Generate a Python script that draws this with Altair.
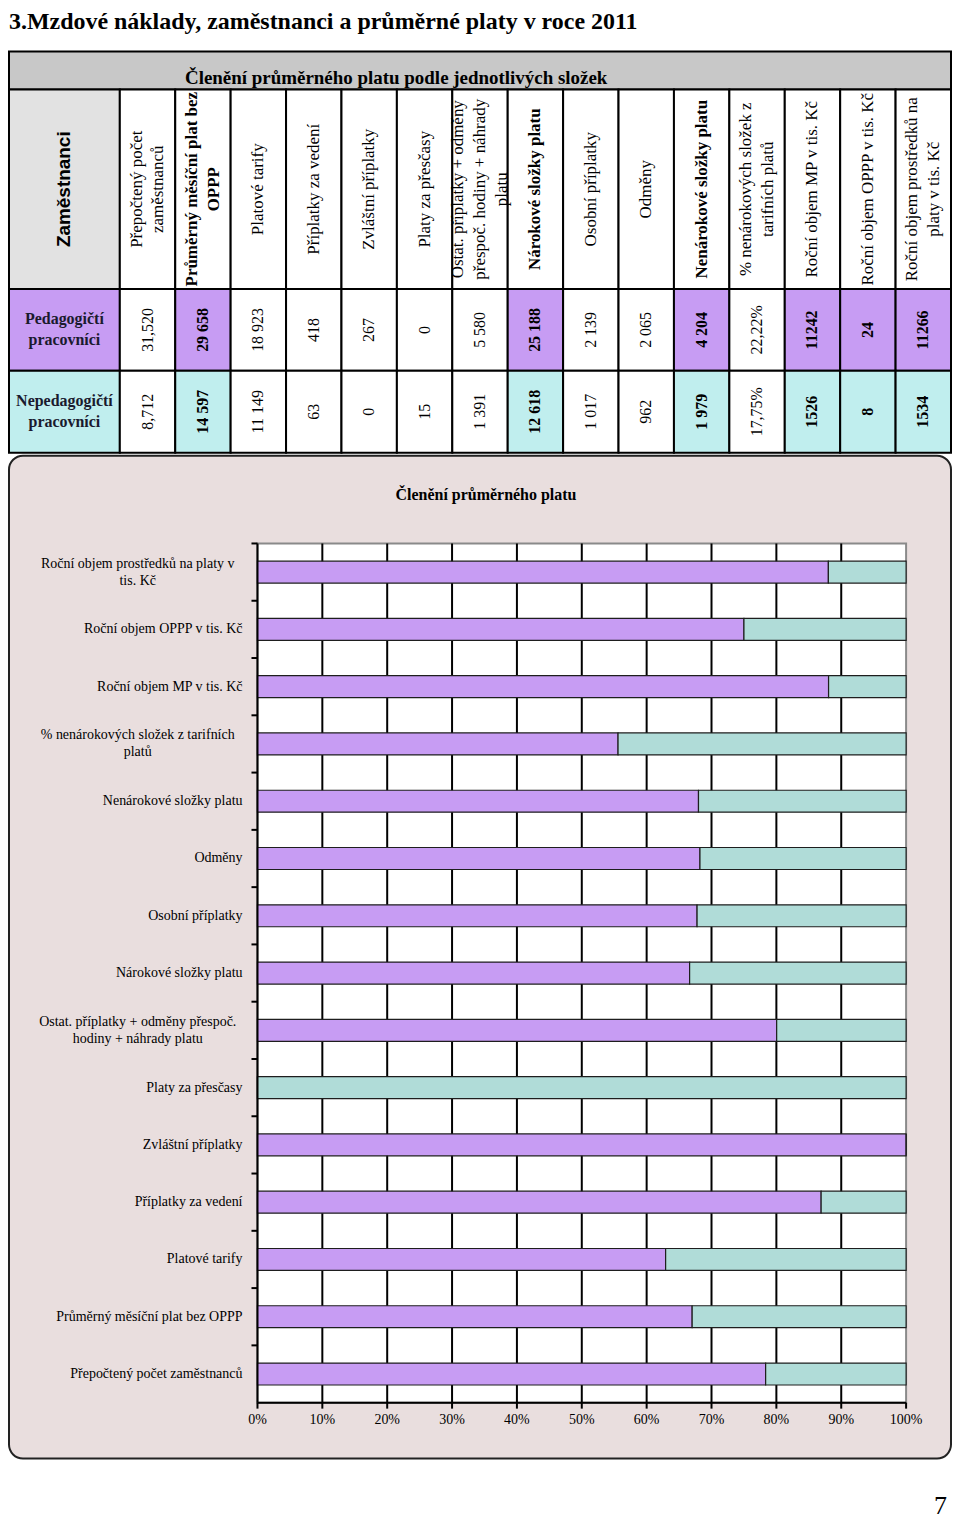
import altair as alt
import pandas as pd

# ---------------- data ----------------
title_text = "3.Mzdové náklady, zaměstnanci a průměrné platy v roce 2011"
band_text = "Členění průměrného platu podle jednotlivých složek"
chart_title = "Členění průměrného platu"
employees_header = "Zaměstnanci"
page_number = "7"

groups = ["Pedagogičtí pracovníci", "Nepedagogičtí pracovníci"]
group_labels = ["Pedagogičtí|pracovníci", "Nepedagogičtí|pracovníci"]

columns = [
    "Přepočtený počet zaměstnanců",
    "Průměrný měsíční plat bez OPPP",
    "Platové tarify",
    "Příplatky za vedení",
    "Zvláštní příplatky",
    "Platy za přesčasy",
    "Ostat. příplatky + odměny přespoč. hodiny + náhrady platu",
    "Nárokové složky platu",
    "Osobní příplatky",
    "Odměny",
    "Nenárokové složky platu",
    "% nenárokových složek z tarifních platů",
    "Roční objem MP v tis. Kč",
    "Roční objem OPPP v tis. Kč",
    "Roční objem prostředků na platy v tis. Kč",
]
header_labels = [
    "Přepočtený počet|zaměstnanců",
    "Průměrný měsíční plat bez|OPPP",
    "Platové tarify",
    "Příplatky za vedení",
    "Zvláštní příplatky",
    "Platy za přesčasy",
    "Ostat. příplatky + odměny|přespoč. hodiny + náhrady|platu",
    "Nárokové složky platu",
    "Osobní příplatky",
    "Odměny",
    "Nenárokové složky platu",
    "% nenárokových složek z|tarifních platů",
    "Roční objem MP v tis. Kč",
    "Roční objem OPPP v tis. Kč",
    "Roční objem prostředků na|platy v tis. Kč",
]
header_bold = [0, 1, 0, 0, 0, 0, 0, 1, 0, 0, 1, 0, 0, 0, 0]
highlight = [0, 1, 0, 0, 0, 0, 0, 1, 0, 0, 1, 0, 1, 1, 1]
value_kind = ["dec", "int", "int", "int", "int", "int", "int", "int",
              "int", "int", "int", "pct", "plain", "plain", "plain"]

ped_values = [31.520, 29658, 18923, 418, 267, 0, 5580, 25188, 2139, 2065,
              4204, 22.22, 11242, 24, 11266]
neped_values = [8.712, 14597, 11149, 63, 0, 15, 1391, 12618, 1017, 962,
                1979, 17.75, 1526, 8, 1534]

chart_labels = {
    "Roční objem prostředků na platy v tis. Kč": "Roční objem prostředků na platy v|tis. Kč",
    "% nenárokových složek z tarifních platů": "% nenárokových složek z tarifních|platů",
    "Ostat. příplatky + odměny přespoč. hodiny + náhrady platu":
        "Ostat. příplatky + odměny přespoč.|hodiny + náhrady platu",
}
x_ticks = [0.0, 0.1, 0.2, 0.3, 0.4, 0.5, 0.6, 0.7, 0.8, 0.9, 1.0]


def fmt(v, kind):
    if kind == "dec":
        return f"{v:.3f}".replace(".", ",")
    if kind == "pct":
        return f"{v:.2f}".replace(".", ",") + "%"
    if kind == "int":
        return f"{int(round(v)):,}".replace(",", " ")
    return str(int(round(v)))


# ---------------- layout / style ----------------
W = 944
N_UNITS = 17
UNIT = W / N_UNITS
ROW = [0, 38, 238, 320, 402]
TABLE_H = 405
HDR_LH = 22
ROW_LH = 21

PURPLE = "#c79cf3"
T_CYAN = "#c0eeee"
B_CYAN = "#b0dcd8"
PINK = "#e9dede"
BAND = "#c8c8c8"
ZAM = "#e2e2e2"
SERIF = "Liberation Serif"
SANS = "Liberation Sans"

one = pd.DataFrame({"k": [0]})

# ---------------- A: page title ----------------
chart_a = alt.Chart(pd.DataFrame({"t": [title_text]})).mark_text(
    align="left", baseline="alphabetic", font=SERIF, fontSize=24,
    fontWeight="bold", color="black"
).encode(x=alt.value(0), y=alt.value(19), text="t:N").properties(width=W, height=42)

# ---------------- B: table ----------------
cells = [dict(x=0, x2=N_UNITS, y=ROW[0], y2=ROW[1], fill=BAND),
         dict(x=0, x2=2, y=ROW[1], y2=ROW[2], fill=ZAM)]
for i in range(len(columns)):
    cells.append(dict(x=i + 2, x2=i + 3, y=ROW[1], y2=ROW[2], fill="white"))
row_fill = [PURPLE, T_CYAN]
for r in range(2):
    cells.append(dict(x=0, x2=2, y=ROW[2 + r], y2=ROW[3 + r], fill=row_fill[r]))
    for i in range(len(columns)):
        cells.append(dict(x=i + 2, x2=i + 3, y=ROW[2 + r], y2=ROW[3 + r],
                          fill=row_fill[r] if highlight[i] else "white"))
cells_df = pd.DataFrame(cells)

xs = alt.Scale(domain=[0, N_UNITS], range=[0, W], nice=False, zero=False)
ys = alt.Scale(domain=[0, ROW[-1]], range=[0, ROW[-1]], nice=False, zero=False)

rects = alt.Chart(cells_df).mark_rect(stroke="black", strokeWidth=2).encode(
    x=alt.X("x:Q", scale=xs, axis=None), x2="x2:Q",
    y=alt.Y("y:Q", scale=ys, axis=None), y2="y2:Q",
    color=alt.Color("fill:N", scale=None),
)

band_t = alt.Chart(pd.DataFrame({"t": [band_text]})).mark_text(
    align="center", baseline="alphabetic", font=SERIF, fontSize=19,
    fontWeight="bold", color="black"
).encode(x=alt.value(388), y=alt.value(33), text="t:N")

hdr_rows = []
for i, lab in enumerate(header_labels):
    n = lab.count("|") + 1
    hdr_rows.append(dict(lab=lab, bold=header_bold[i],
                         x=i + 2.5 - (n - 1) * HDR_LH / 2 / UNIT,
                         y=(ROW[1] + ROW[2]) / 2))
hdr_df = pd.DataFrame(hdr_rows)


def hdr_layer(bold):
    return alt.Chart(hdr_df).transform_filter(f"datum.bold == {bold}").transform_calculate(
        lines="split(datum.lab, '|')"
    ).mark_text(angle=270, align="center", baseline="middle", font=SERIF, fontSize=17,
                lineHeight=HDR_LH, fontWeight="bold" if bold else "normal", color="black"
    ).encode(x=alt.X("x:Q", scale=xs, axis=None), y=alt.Y("y:Q", scale=ys, axis=None),
             text="lines:N")


zam_t = alt.Chart(pd.DataFrame({"t": [employees_header], "x": [1.0],
                                "y": [(ROW[1] + ROW[2]) / 2]})).mark_text(
    angle=270, align="center", baseline="middle", font=SANS, fontSize=19,
    fontWeight="bold", color="black"
).encode(x=alt.X("x:Q", scale=xs, axis=None), y=alt.Y("y:Q", scale=ys, axis=None), text="t:N")

rl_rows = []
for r in range(2):
    rl_rows.append(dict(lab=group_labels[r], x=1.0,
                        y=(ROW[2 + r] + ROW[3 + r]) / 2 - ROW_LH / 2))
rowlab_t = alt.Chart(pd.DataFrame(rl_rows)).transform_calculate(
    lines="split(datum.lab, '|')"
).mark_text(align="center", baseline="middle", font=SERIF, fontSize=16,
            fontWeight="bold", lineHeight=ROW_LH, color="#1a1a2e"
).encode(x=alt.X("x:Q", scale=xs, axis=None), y=alt.Y("y:Q", scale=ys, axis=None),
         text="lines:N")

val_rows = []
for r, vals in enumerate([ped_values, neped_values]):
    for i, v in enumerate(vals):
        val_rows.append(dict(t=fmt(v, value_kind[i]), bold=highlight[i], x=i + 2.5,
                             y=(ROW[2 + r] + ROW[3 + r]) / 2))
val_df = pd.DataFrame(val_rows)


def val_layer(bold):
    return alt.Chart(val_df).transform_filter(f"datum.bold == {bold}").mark_text(
        angle=270, align="center", baseline="middle", font=SERIF, fontSize=16,
        fontWeight="bold" if bold else "normal", color="black"
    ).encode(x=alt.X("x:Q", scale=xs, axis=None), y=alt.Y("y:Q", scale=ys, axis=None),
             text="t:N")


chart_b = alt.layer(rects, band_t, hdr_layer(0), hdr_layer(1), zam_t, rowlab_t,
                    val_layer(0), val_layer(1)).properties(width=W, height=TABLE_H)

# ---------------- C: 100% stacked bar chart ----------------
C_H = 1005
PX0, PX1 = 249, 899
PY0, PY1 = 88, 949
cats = list(reversed(columns))

bar_rows = []
for i, c in enumerate(columns):
    bar_rows.append(dict(cat=c, grp=groups[0], gi=0, value=ped_values[i]))
    bar_rows.append(dict(cat=c, grp=groups[1], gi=1, value=neped_values[i]))
bars_df = pd.DataFrame(bar_rows)

lab_rows = []
for c in cats:
    lab = chart_labels.get(c, c)
    lab_rows.append(dict(cat=c, lab=lab, multi=int("|" in lab)))
lab_df = pd.DataFrame(lab_rows)

tick_df = pd.DataFrame({"t": x_ticks, "lab": [f"{int(round(t * 100))}%" for t in x_ticks]})

xsc = alt.Scale(domain=[0, 1], range=[PX0, PX1], nice=False, zero=False)
ysc = alt.Scale(domain=cats, range=[PY0, PY1], paddingInner=0, paddingOuter=0)

plot_bg = alt.Chart(one).mark_rect(fill="white", stroke="#8a8a8a", strokeWidth=2).encode(
    x=alt.XDatum(0, scale=xsc, axis=None), x2=alt.X2Datum(1),
    y=alt.value(PY0), y2=alt.value(PY1),
)

grid = alt.Chart(tick_df).transform_filter("datum.t > 0 && datum.t < 1").mark_rule(
    color="black", strokeWidth=2
).encode(
    x=alt.X("t:Q", scale=xsc, axis=None),
    y=alt.value(PY0), y2=alt.value(PY1),
)

bars = alt.Chart(bars_df).mark_bar(size=22, stroke="#1e1e1e", strokeWidth=1.2).encode(
    x=alt.X("value:Q", stack="normalize", scale=xsc, axis=None),
    y=alt.Y("cat:N", sort=cats, scale=ysc, axis=None),
    color=alt.Color("grp:N", scale=alt.Scale(domain=groups, range=[PURPLE, B_CYAN]),
                    legend=None),
    order=alt.Order("gi:Q"),
)

# axis lines, ticks and labels, placed through the same scales
x_domain = alt.Chart(one).mark_rule(color="black", strokeWidth=2).encode(
    x=alt.XDatum(0, scale=xsc, axis=None), x2=alt.X2Datum(1), y=alt.value(PY1))
y_domain = alt.Chart(one).mark_rule(color="black", strokeWidth=2).encode(
    x=alt.XDatum(0, scale=xsc, axis=None), y=alt.value(PY0), y2=alt.value(PY1))
x_tick_marks = alt.Chart(tick_df).mark_rule(color="black", strokeWidth=2).encode(
    x=alt.X("t:Q", scale=xsc, axis=None), y=alt.value(PY1), y2=alt.value(PY1 + 6))
x_tick_labels = alt.Chart(tick_df).mark_text(
    align="center", baseline="middle", font=SERIF, fontSize=14, color="black"
).encode(x=alt.X("t:Q", scale=xsc, axis=None), y=alt.value(PY1 + 17), text="lab:N")
y_tick_marks = alt.Chart(lab_df).mark_rule(color="black", strokeWidth=2).encode(
    y=alt.Y("cat:N", sort=cats, scale=ysc, axis=None, bandPosition=0),
    x=alt.value(PX0 - 6), x2=alt.value(PX0))

lab_single = alt.Chart(lab_df).transform_filter("datum.multi == 0").mark_text(
    align="right", baseline="middle", font=SERIF, fontSize=14, color="black"
).encode(x=alt.value(PX0 - 15), y=alt.Y("cat:N", sort=cats, scale=ysc, axis=None),
         text="lab:N")

lab_multi = alt.Chart(lab_df).transform_filter("datum.multi == 1").transform_calculate(
    lines="split(datum.lab, '|')"
).mark_text(
    align="center", baseline="middle", font=SERIF, fontSize=14, lineHeight=17,
    dy=-8.5, color="black"
).encode(x=alt.value(129), y=alt.Y("cat:N", sort=cats, scale=ysc, axis=None),
         text="lines:N")

c_title = alt.Chart(pd.DataFrame({"t": [chart_title]})).mark_text(
    align="center", baseline="middle", font=SERIF, fontSize=16, fontWeight="bold",
    color="black"
).encode(x=alt.value(478), y=alt.value(39), text="t:N")

chart_c = alt.layer(plot_bg, grid, bars, x_domain, y_domain, x_tick_marks, x_tick_labels,
                    y_tick_marks, lab_single, lab_multi, c_title).properties(
    width=W, height=C_H,
    view=alt.ViewBackground(fill=PINK, stroke="#222222", strokeWidth=2, cornerRadius=14),
)

# ---------------- D: page number ----------------
chart_d = alt.Chart(pd.DataFrame({"t": [page_number]})).mark_text(
    align="right", baseline="alphabetic", font=SERIF, fontSize=26, color="black"
).encode(x=alt.value(940), y=alt.value(56), text="t:N").properties(width=W, height=56)

chart = alt.vconcat(chart_a, chart_b, chart_c, chart_d, spacing=0, bounds="flush").configure_view(
    strokeWidth=0
).properties(padding=0, background="white")

chart.save("out.html", embed_options={"renderer": "svg", "actions": False})
